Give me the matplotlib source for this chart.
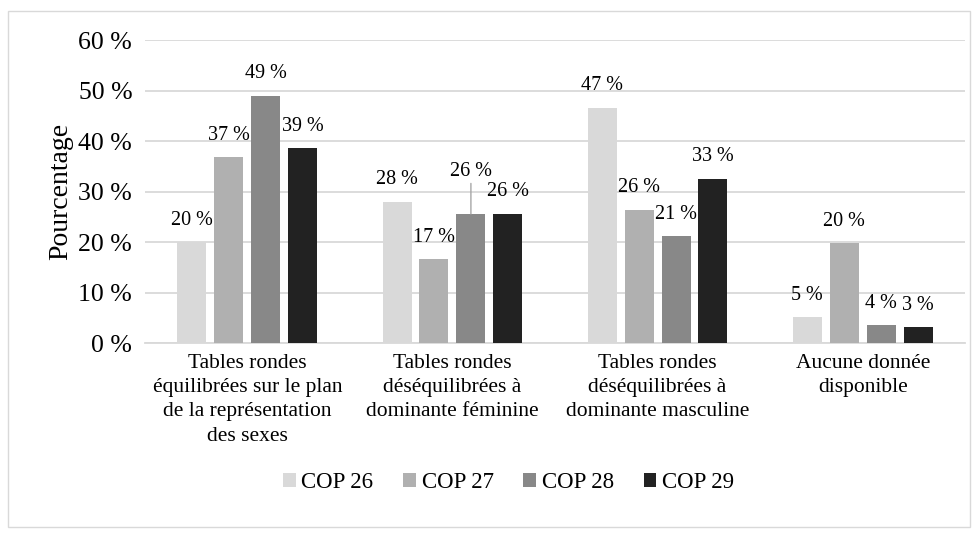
import matplotlib.pyplot as plt
import numpy as np
from matplotlib.patches import Rectangle
from matplotlib.ticker import FuncFormatter, MultipleLocator

categories = [
    "Tables rondes\néquilibrées sur le plan\nde la représentation\ndes sexes",
    "Tables rondes\ndéséquilibrées à\ndominante féminine",
    "Tables rondes\ndéséquilibrées à\ndominante masculine",
    "Aucune donnée\ndisponible",
]
series = ["COP 26", "COP 27", "COP 28", "COP 29"]
cop26 = [20.0, 28.0, 46.6, 5.2]
cop27 = [36.8, 16.6, 26.4, 19.8]
cop28 = [49.0, 25.6, 21.2, 3.6]
cop29 = [38.6, 25.6, 32.6, 3.2]
colors = ["#d9d9d9", "#b0b0b0", "#888888", "#222222"]

plt.rcParams["font.family"] = ["Liberation Serif", "DejaVu Serif"]

fig = plt.figure(figsize=(9.78, 5.36), dpi=100)
ax = fig.add_axes([0.148, 0.3595, 0.839, 0.5655])

x = np.arange(len(categories))
width = 0.1415
step = 0.18
for i, (name, vals) in enumerate(zip(series, [cop26, cop27, cop28, cop29])):
    pos = x + (i - 1.5) * step
    ax.bar(pos, vals, width, color=colors[i], label=name, zorder=3)
    for j, (px, v) in enumerate(zip(pos, vals)):
        if i == 2 and j == 1:
            # label pushed up with a leader line, as in the source
            ax.annotate(f"{round(v)} %", (px, v), xytext=(0, 24),
                        textcoords="offset points", ha="center", va="bottom",
                        fontsize=14.5,
                        arrowprops=dict(arrowstyle="-", color="#a6a6a6",
                                        lw=1, shrinkA=0, shrinkB=0))
        else:
            ax.annotate(f"{round(v)} %", (px, v), xytext=(0, 9),
                        textcoords="offset points", ha="center", va="bottom",
                        fontsize=14.5)

ax.set_xlim(-0.5, 3.5)
ax.set_ylim(0, 60)
ax.yaxis.set_major_locator(MultipleLocator(10))
ax.yaxis.set_major_formatter(FuncFormatter(lambda v, _: f"{int(v)} %"))
ax.grid(axis="y", color="#d9d9d9", linewidth=1.3, zorder=0)
ax.set_xticks(x)
ax.set_xticklabels(categories, fontsize=15.5, linespacing=1.36)
ax.tick_params(axis="both", length=0)
ax.tick_params(axis="y", labelsize=18.5, pad=9)
ax.tick_params(axis="x", pad=8)
for side in ["top", "right", "left"]:
    ax.spines[side].set_visible(False)
ax.spines["bottom"].set_color("#d9d9d9")
ax.spines["bottom"].set_linewidth(1.3)
ax.set_ylabel("Pourcentage", fontsize=20, labelpad=4)

fig.legend(loc="center", bbox_to_anchor=(0.52, 0.1), ncol=4, frameon=False,
           fontsize=16.5, handlelength=0.55, handleheight=0.55,
           handletextpad=0.25, columnspacing=1.3)

fig.patches.append(Rectangle((0.008, 0.017), 0.984, 0.963,
                             transform=fig.transFigure, fill=False,
                             edgecolor="#d9d9d9", linewidth=1))

fig.savefig("out.png", dpi=100)
